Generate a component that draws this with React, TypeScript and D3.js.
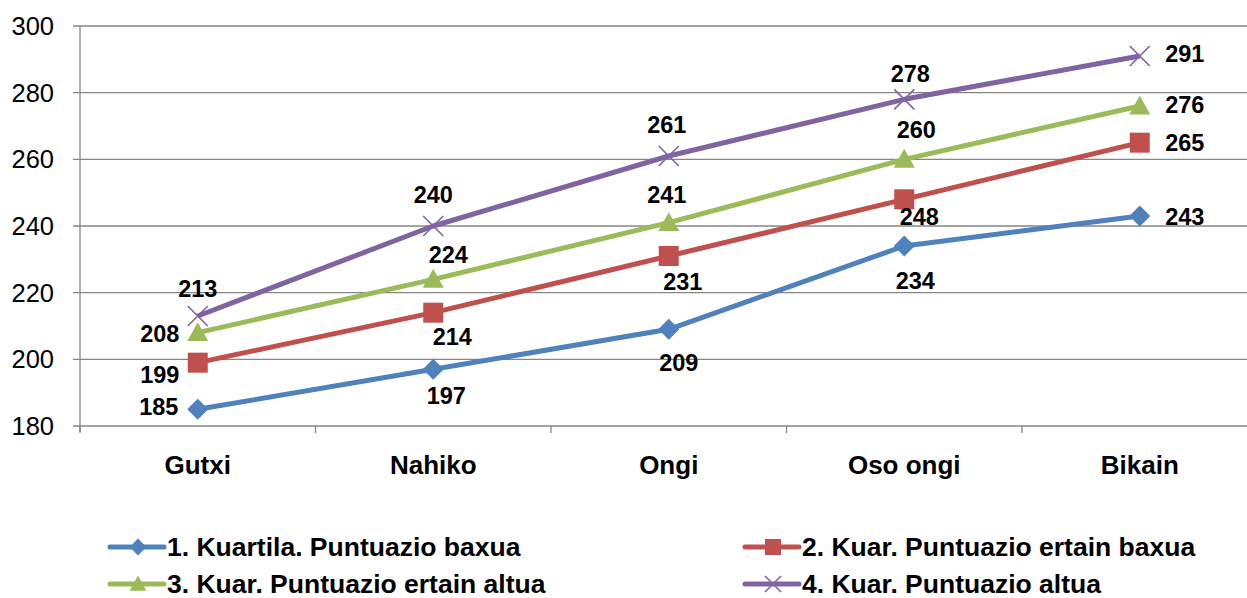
import { useRef, useEffect } from "react";
import * as d3 from "d3";

const categories = ["Gutxi", "Nahiko", "Ongi", "Oso ongi", "Bikain"];
const seriesNames = [
  "1. Kuartila. Puntuazio baxua",
  "2. Kuar. Puntuazio ertain baxua",
  "3. Kuar. Puntuazio ertain altua",
  "4. Kuar. Puntuazio altua",
];
const q1 = [185, 197, 209, 234, 243];
const q2 = [199, 214, 231, 248, 265];
const q3 = [208, 224, 241, 260, 276];
const q4 = [213, 240, 261, 278, 291];
const yTicks = [180, 200, 220, 240, 260, 280, 300];

// label nudges relative to the marker [dx, dy]
const labelNudge = [
  [[-39, -3], [13, 26], [10, 33], [11, 35], [45, 1]],
  [[-38, 12], [19, 24], [14, 26], [15, 17], [45, 0]],
  [[-38, 1], [15, -25], [-2, -28], [12, -30], [45, -1]],
  [[0, -27], [0, -31], [-2, -31], [6, -26], [45, -2]],
];

const colors = ["#4F81BD", "#C0504D", "#9BBB59", "#8064A2"];
const shapes = ["diamond", "square", "triangle", "x"];

export default function App() {
  const ref = useRef<SVGSVGElement>(null);

  useEffect(() => {
    const svg = d3.select(ref.current);
    svg.selectAll("*").remove();
    const W = 1247;
    const left = 80, top = 26, bottom = 426;
    const band = 235.5;

    const x = d3.scaleBand().domain(categories).range([left, left + band * 5]);
    const y = d3.scaleLinear().domain([180, 300]).range([bottom, top]);
    const font = "'Liberation Sans', Arial, sans-serif";
    const grid = "#868686";

    // gridlines
    svg.append("g").selectAll("line").data(yTicks).join("line")
      .attr("x1", left - 7).attr("x2", W)
      .attr("y1", (d) => y(d)).attr("y2", (d) => y(d))
      .attr("stroke", grid).attr("stroke-width", 1.3);

    // y axis line
    svg.append("line").attr("x1", left).attr("x2", left)
      .attr("y1", top).attr("y2", bottom + 6)
      .attr("stroke", grid).attr("stroke-width", 1.3);

    // x ticks
    svg.append("g").selectAll("line").data(d3.range(6)).join("line")
      .attr("x1", (i) => left + band * i).attr("x2", (i) => left + band * i)
      .attr("y1", bottom).attr("y2", bottom + 7)
      .attr("stroke", grid).attr("stroke-width", 1.3);

    svg.append("g").selectAll("text").data(yTicks).join("text")
      .attr("x", 54).attr("y", (d) => y(d)).attr("dy", "0.35em")
      .attr("text-anchor", "end").attr("font-family", font).attr("font-size", 25.5)
      .text((d) => d);

    svg.append("g").selectAll("text").data(categories).join("text")
      .attr("x", (d) => x(d)! + x.bandwidth() / 2).attr("y", 465).attr("dy", "0.35em")
      .attr("text-anchor", "middle").attr("font-family", font).attr("font-size", 26)
      .attr("font-weight", "bold").text((d) => d);

    const drawMarker = (g: any, shape: string, color: string, cx: number, cy: number, s = 1) => {
      if (shape === "diamond") {
        const r = 10.5 * s;
        g.append("path").attr("d", `M${cx},${cy - r}L${cx + r},${cy}L${cx},${cy + r}L${cx - r},${cy}Z`).attr("fill", color);
      } else if (shape === "square") {
        const r = 10 * s;
        g.append("rect").attr("x", cx - r).attr("y", cy - r).attr("width", 2 * r).attr("height", 2 * r).attr("fill", color);
      } else if (shape === "triangle") {
        const r = 10.5 * s;
        g.append("path").attr("d", `M${cx},${cy - r}L${cx + r},${cy + r * 0.8}L${cx - r},${cy + r * 0.8}Z`).attr("fill", color);
      } else {
        const r = 10 * s;
        g.append("path").attr("d", `M${cx - r},${cy - r}L${cx + r},${cy + r}M${cx + r},${cy - r}L${cx - r},${cy + r}`)
          .attr("stroke", color).attr("stroke-width", 1.6).attr("fill", "none");
      }
    };

    const all = [q1, q2, q3, q4];
    const line = d3.line<number>()
      .x((_, i) => x(categories[i])! + x.bandwidth() / 2)
      .y((d) => y(d));

    all.forEach((vals, si) => {
      const g = svg.append("g");
      g.append("path").attr("d", line(vals)).attr("fill", "none")
        .attr("stroke", colors[si]).attr("stroke-width", 5).attr("stroke-linejoin", "round");
      vals.forEach((v, i) => {
        drawMarker(g, shapes[si], colors[si], x(categories[i])! + x.bandwidth() / 2, y(v));
      });
    });

    all.forEach((vals, si) => {
      svg.append("g").selectAll("text").data(vals).join("text")
        .attr("x", (d, i) => x(categories[i])! + x.bandwidth() / 2 + labelNudge[si][i][0])
        .attr("y", (d, i) => y(d) + labelNudge[si][i][1]).attr("dy", "0.35em")
        .attr("text-anchor", "middle").attr("font-family", font).attr("font-size", 23.5)
        .attr("font-weight", "bold").text((d) => d);
    });

    // legend
    const legPos = [[110, 547], [745, 547], [110, 584], [745, 584]];
    seriesNames.forEach((name, si) => {
      const [lx, ly] = legPos[si];
      const g = svg.append("g");
      g.append("line").attr("x1", lx).attr("x2", lx + 54).attr("y1", ly).attr("y2", ly)
        .attr("stroke", colors[si]).attr("stroke-width", 5).attr("stroke-linecap", "round");
      drawMarker(g, shapes[si], colors[si], lx + 28, ly, 0.8);
      g.append("text").attr("x", lx + 57).attr("y", ly).attr("dy", "0.35em")
        .attr("font-family", font).attr("font-size", 26.5).attr("font-weight", "bold").text(name);
    });
  }, []);

  return (
    <svg ref={ref} width={1247} height={598}
      style={{ position: "absolute", left: 0, top: 0, background: "#fff" }} />
  );
}
